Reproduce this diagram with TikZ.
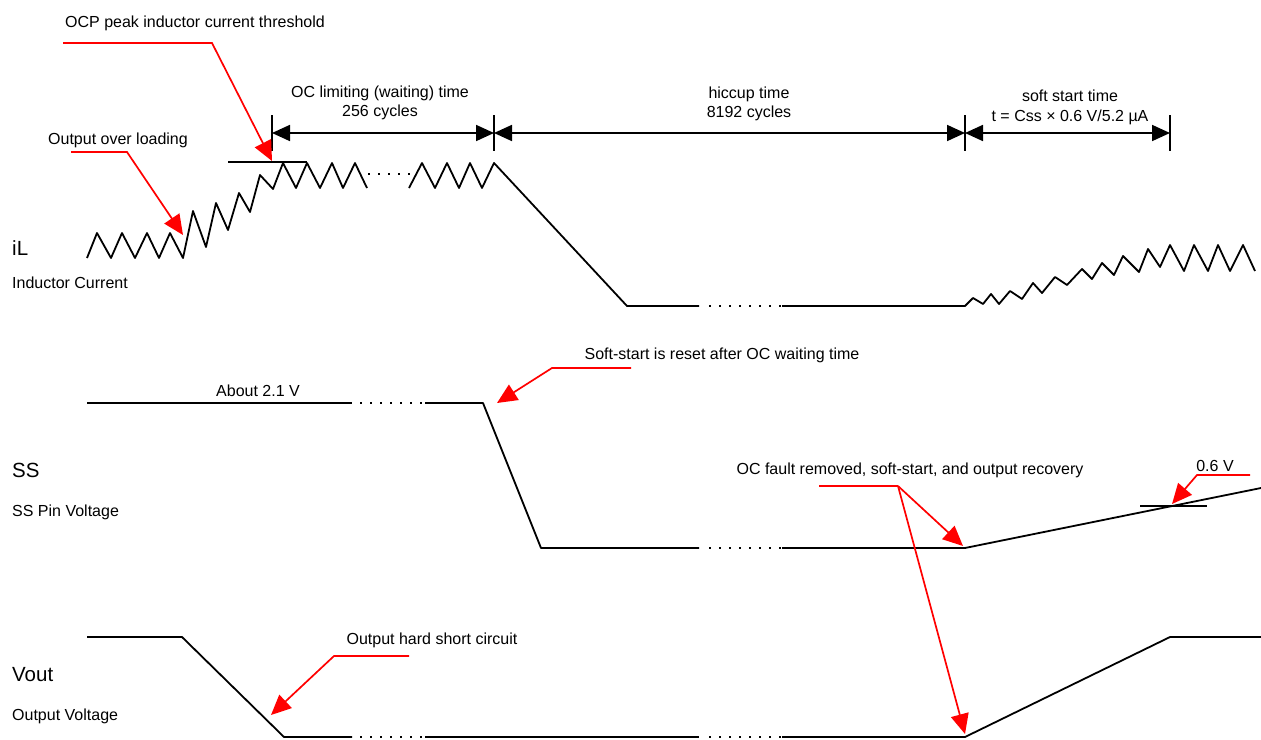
\documentclass[tikz,border=0pt]{standalone}
\usepackage{fontspec}
\setmainfont{Liberation Sans}
\usetikzlibrary{arrows.meta}
\begin{document}
\begin{tikzpicture}[x=1pt,y=-1pt,
  wave/.style={line width=1.8pt, line join=round},
  dotline/.style={line width=1.6pt, dash pattern=on 1.6pt off 8.4pt},
  lbl/.style={font=\fontsize{16}{19}\selectfont, inner sep=0pt, anchor=base},
  lblw/.style={font=\fontsize{16}{19}\selectfont, inner sep=0pt, anchor=base west},
  biglbl/.style={font=\fontsize{20.5}{24}\selectfont, inner sep=0pt, anchor=base west},
  redarrow/.style={red, line width=1.7pt, -{Triangle[length=20pt,width=18pt]}},
  dimarrow/.style={line width=1.8pt, {Triangle[length=18pt,width=16pt]}-{Triangle[length=18pt,width=16pt]}},
  tick/.style={line width=1.8pt}
]
\useasboundingbox (0,0) rectangle (1261,739);

% ---------- labels on the left ----------
\node[biglbl] (iL) at (12,255) {iL};
\node[lblw] (iLd) at (12,288) {Inductor Current};
\node[biglbl] (SS) at (12,477) {SS};
\node[lblw] (SSd) at (12,516) {SS Pin Voltage};
\node[biglbl] (Vout) at (12,681) {Vout};
\node[lblw] (Voutd) at (12,720) {Output Voltage};

% ---------- iL waveform ----------
\draw[wave] (87,258) -- (97,233) -- (111,258) -- (122,233) -- (135,258) -- (147,233) -- (159,258) -- (170,233) -- (183,258)
  -- (193,211) -- (206,247) -- (216,203) -- (228,230) -- (239,193) -- (250,212) -- (260,175) -- (273,189)
  -- (283,163) -- (296,188) -- (307,163) -- (320,188) -- (332,163) -- (343,188) -- (355,163) -- (367,188);
\draw[dotline] (368,174) -- (410,174);
\draw[wave] (409,188) -- (422,163) -- (435,188) -- (447,163) -- (459,188) -- (470,163) -- (482,188) -- (494,163)
  -- (627,306) -- (699,306);
\draw[dotline] (709,306) -- (781,306);
\draw[wave] (782,306) -- (965,306) -- (973,298) -- (983,304) -- (991,294) -- (999,304) -- (1010,291) -- (1022,299)
  -- (1033,283) -- (1042,293) -- (1055,277) -- (1067,285) -- (1082,269) -- (1092,279) -- (1102,263) -- (1114,275)
  -- (1123,256) -- (1139,272) -- (1148,249) -- (1160,267) -- (1170,245) -- (1184,271) -- (1194,245) -- (1208,271)
  -- (1218,245) -- (1230,271) -- (1243,245) -- (1255,271);
% OCP threshold
\draw[tick] (228,162) -- (307,162);

% ---------- dimension arrows ----------
\draw[tick] (272,115) -- (272,151);
\draw[tick] (494,115) -- (494,151);
\draw[tick] (965,115) -- (965,151);
\draw[tick] (1170,115) -- (1170,151);
\coordinate (d1) at (272,133);
\coordinate (d2) at (494,133);
\coordinate (d3) at (965,133);
\coordinate (d4) at (1170,133);
\draw[dimarrow] (d1) -- (d2);
\draw[dimarrow] (d2) -- (d3);
\draw[dimarrow] (d3) -- (d4);
\node[lbl] (oc1) at (380,97) {OC limiting (waiting) time};
\node[lbl] (oc2) at (380,116) {256 cycles};
\node[lbl] (hc1) at (749,98) {hiccup time};
\node[lbl] (hc2) at (749,117) {8192 cycles};
\node[lbl] (ss1) at (1070,101) {soft start time};
\node[lbl] (ss2) at (1070,121) {t = Css × 0.6 V/5.2 µA};

% ---------- SS waveform ----------
\draw[wave] (87,403) -- (352,403);
\draw[dotline] (360,403) -- (422,403);
\draw[wave] (425,403) -- (483,403) -- (541,548) -- (699,548);
\draw[dotline] (709,548) -- (781,548);
\draw[wave] (782,548) -- (965,548) -- (1261,488);
\draw[tick] (1140,506) -- (1207,506);
\node[lbl] (about) at (258,396) {About 2.1 V};

% ---------- Vout waveform ----------
\draw[wave] (87,637) -- (182,637) -- (284,737) -- (352,737);
\draw[dotline] (360,737) -- (422,737);
\draw[wave] (425,737) -- (699,737);
\draw[dotline] (709,737) -- (781,737);
\draw[wave] (782,737) -- (965,737) -- (1170,637) -- (1261,637);

% ---------- annotations ----------
\node[lbl] (ocp) at (195,27) {OCP peak inductor current threshold};
\coordinate (ocpA) at (63,43);
\coordinate (ocpB) at (212,43);
\coordinate (ocpT) at (272,161);
\draw[redarrow] (ocpA) -- (ocpB) -- (ocpT);

\node[lbl] (ovl) at (118,144) {Output over loading};
\coordinate (ovlA) at (71,152);
\coordinate (ovlB) at (127,152);
\coordinate (ovlT) at (183,235);
\draw[redarrow] (ovlA) -- (ovlB) -- (ovlT);

\node[lbl] (ssr) at (722,359) {Soft-start is reset after OC waiting time};
\coordinate (ssrA) at (631,368);
\coordinate (ssrB) at (552,368);
\coordinate (ssrT) at (497,403);
\draw[redarrow] (ssrA) -- (ssrB) -- (ssrT);

\node[lbl] (ocf) at (910,474) {OC fault removed, soft-start, and output recovery};
\coordinate (ocfA) at (819,486);
\coordinate (ocfB) at (898,486);
\coordinate (ocfT1) at (963,546);
\coordinate (ocfT2) at (965,734);
\draw[red, line width=1.7pt] (ocfA) -- (ocfB);
\draw[redarrow] (ocfB) -- (ocfT1);
\draw[redarrow] (ocfB) -- (ocfT2);

\node[lbl] (v06) at (1215,471) {0.6 V};
\coordinate (v06A) at (1250,475);
\coordinate (v06B) at (1197,475);
\coordinate (v06T) at (1172,504);
\draw[redarrow] (v06A) -- (v06B) -- (v06T);

\node[lbl] (hsc) at (432,644) {Output hard short circuit};
\coordinate (hscA) at (409,656);
\coordinate (hscB) at (334,656);
\coordinate (hscT) at (271,715);
\draw[redarrow] (hscA) -- (hscB) -- (hscT);
\end{tikzpicture}
\end{document}
